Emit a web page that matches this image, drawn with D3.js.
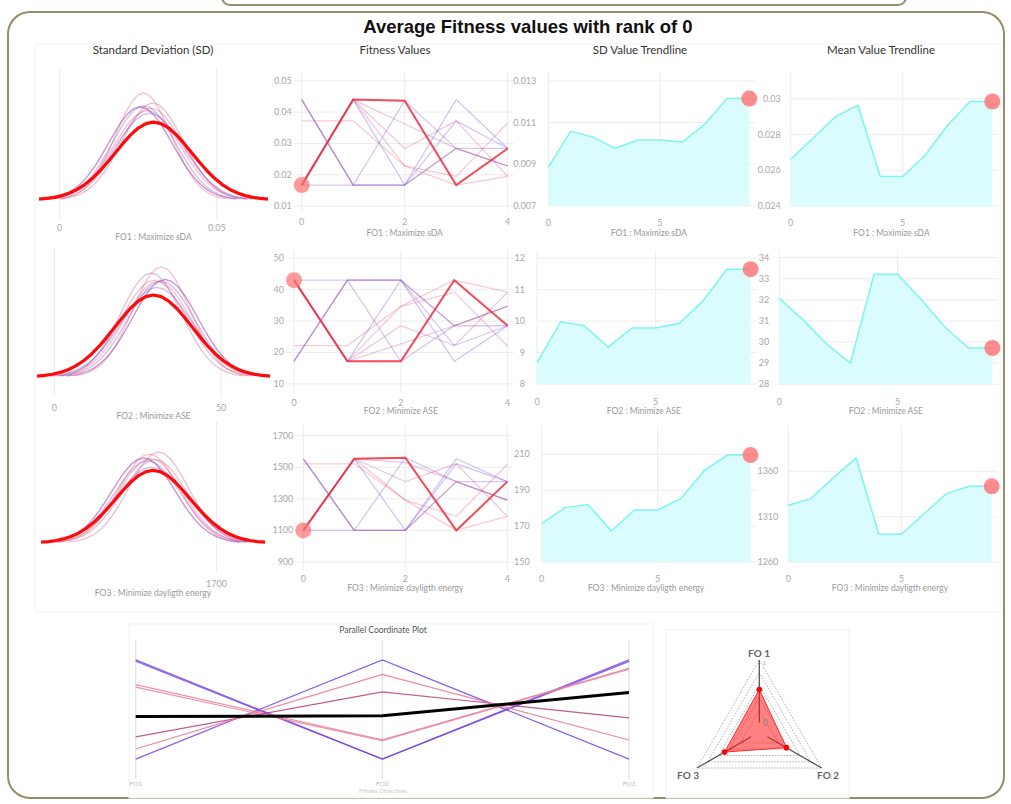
<!DOCTYPE html>
<html>
<head>
<meta charset="utf-8">
<script src="https://cdn.jsdelivr.net/npm/d3@7"></script>
<style>
  body { margin: 0; background: #fff; }
  svg { display: block; }
</style>
</head>
<body>
<svg id="chart" width="1011" height="804"></svg>
<script>
// ---------------------------------------------------------------------------
// Data: fitness of the 5 individuals in each of the 10 generations
// ---------------------------------------------------------------------------
const generations = [0, 1, 2, 3, 4, 5, 6, 7, 8, 9];
const individuals = [0, 1, 2, 3, 4];

const fo1Fitness = [
  [0.0372, 0.0372, 0.0228, 0.0167, 0.0195],
  [0.0167, 0.0440, 0.0228, 0.0195, 0.0365],
  [0.0167, 0.0440, 0.0284, 0.0372, 0.0195],
  [0.0167, 0.0440, 0.0362, 0.0284, 0.0228],
  [0.0440, 0.0167, 0.0167, 0.0284, 0.0228],
  [0.0440, 0.0167, 0.0167, 0.0284, 0.0228],
  [0.0167, 0.0167, 0.0436, 0.0284, 0.0284],
  [0.0440, 0.0167, 0.0167, 0.0372, 0.0284],
  [0.0167, 0.0440, 0.0167, 0.0440, 0.0284],
  [0.0167, 0.0440, 0.0436, 0.0167, 0.0284]
];
const fo2Fitness = [
  [22.2, 22.2, 34.7, 43.0, 39.2],
  [43.0, 17.2, 34.7, 39.2, 22.0],
  [43.0, 17.2, 28.5, 22.2, 39.2],
  [43.0, 17.2, 22.7, 28.5, 34.7],
  [17.2, 43.0, 43.0, 28.5, 34.7],
  [17.2, 43.0, 43.0, 28.5, 34.7],
  [43.0, 43.0, 17.2, 28.5, 28.5],
  [17.2, 43.0, 43.0, 22.2, 28.5],
  [43.0, 17.2, 43.0, 17.2, 28.5],
  [43.0, 17.2, 17.2, 43.0, 28.5]
];
const fo3Fitness = [
  [1522, 1522, 1292, 1100, 1189],
  [1100, 1554, 1292, 1189, 1518],
  [1100, 1554, 1409, 1522, 1189],
  [1100, 1554, 1530, 1409, 1292],
  [1554, 1100, 1100, 1409, 1292],
  [1554, 1100, 1100, 1409, 1292],
  [1100, 1100, 1561, 1409, 1409],
  [1554, 1100, 1100, 1522, 1409],
  [1100, 1554, 1100, 1554, 1409],
  [1100, 1554, 1561, 1100, 1409]
];

// Per-generation standard deviation and mean of each objective
const fo1Sd   = [0.00885, 0.01058, 0.01030, 0.00976, 0.01016, 0.01016, 0.01006, 0.01091, 0.01215, 0.01215];
const fo1Mean = [0.02662, 0.02781, 0.02900, 0.02963, 0.02565, 0.02565, 0.02684, 0.02851, 0.02985, 0.02985];
const fo2Sd   = [8.68, 9.98, 9.85, 9.17, 9.78, 9.78, 9.93, 10.65, 11.65, 11.65];
const fo2Mean = [32.07, 31.05, 29.91, 29.00, 33.21, 33.21, 32.00, 30.70, 29.72, 29.72];
const fo3Sd   = [171.4, 180.3, 182.0, 167.3, 179.0, 179.0, 185.3, 200.9, 209.6, 209.6];
const fo3Mean = [1322.6, 1330.0, 1353.0, 1374.7, 1291.1, 1290.8, 1313.1, 1335.5, 1343.5, 1343.5];

// Axis tick values
const sdAxisTicks      = [[0, 0.05], [0, 50], [1700]];
const fitnessTicks     = [[0.01, 0.02, 0.03, 0.04, 0.05], [10, 20, 30, 40, 50], [900, 1100, 1300, 1500, 1700]];
const individualTicks  = [0, 2, 4];
const sdTrendTicks     = [[0.007, 0.009, 0.011, 0.013], [8, 9, 10, 11, 12], [150, 170, 190, 210]];
const meanTrendTicks   = [[0.024, 0.026, 0.028, 0.03], [28, 29, 30, 31, 32, 33, 34], [1260, 1310, 1360]];
const generationTicks  = [0, 5];

const objectiveTitles = ["FO1 : Maximize sDA", "FO2 : Minimize ASE", "FO3 : Minimize dayligth energy"];
const columnTitles = ["Standard Deviation (SD)", "Fitness Values", "SD Value Trendline", "Mean Value Trendline"];

// Parallel coordinates: distinct individuals of the run
const pcAxes = ["FO1", "FO2", "FO3"];
const pcFO1 = [0.0440, 0.0436, 0.0167, 0.0372, 0.0365, 0.0228, 0.0195, 0.0284];
const pcFO2 = [17.2, 17.2, 43.0, 22.2, 22.0, 34.7, 39.2, 28.5];
const pcFO3 = [1554, 1561, 1100, 1522, 1518, 1292, 1189, 1409];
const pcGroup = ["edge", "edge", "edge", "upper", "upper", "middle", "lower", "selected"];

// Radar of the selected solution
const radarAxes = ["FO 1", "FO 2", "FO 3"];
const radarValues = [0.53, 0.35, 0.49];
const radarLevels = [0.2, 0.4, 0.6, 0.8, 1];

// ---------------------------------------------------------------------------
const svg = d3.select("#chart");
const FONT = "Lato, 'Open Sans', sans-serif";
const GRID = "#ececec";
const TICK = "#a8a8a8";

// Outer frames
svg.append("rect").attr("x", 222).attr("y", -20).attr("width", 684).attr("height", 25)
  .attr("rx", 8).attr("fill", "none").attr("stroke", "#978c69").attr("stroke-width", 2);
svg.append("rect").attr("x", 8).attr("y", 12).attr("width", 996).attr("height", 786)
  .attr("rx", 22).attr("fill", "#fff").attr("stroke", "#978c69").attr("stroke-width", 2);

svg.append("text").attr("x", 528).attr("y", 33).attr("text-anchor", "middle")
  .attr("font-family", "'Liberation Sans', Arial, sans-serif").attr("font-weight", "bold")
  .attr("font-size", 18.5).attr("fill", "#111").text("Average Fitness values with rank of 0");

// Cards
svg.append("rect").attr("x", 35).attr("y", 44).attr("width", 966).attr("height", 568)
  .attr("fill", "#fff").attr("stroke", "#f1f1f1");
svg.append("rect").attr("x", 129).attr("y", 624).attr("width", 524).attr("height", 174)
  .attr("fill", "#fff").attr("stroke", "#f1f1f1");
svg.append("rect").attr("x", 666).attr("y", 630).attr("width", 183).attr("height", 168)
  .attr("fill", "#fff").attr("stroke", "#f1f1f1");

const colCenters = [153, 395, 640, 881];
columnTitles.forEach((t, i) => {
  svg.append("text").attr("x", colCenters[i]).attr("y", 54).attr("text-anchor", "middle")
    .attr("font-family", FONT).attr("font-size", 11.5).attr("fill", "#333").text(t);
});

const genColor = i => d3.interpolateRgb("#ef5a6e", "#6b4fe6")(i / 8);

const objectives = [
  { fitness: fo1Fitness, sd: fo1Sd, mean: fo1Mean },
  { fitness: fo2Fitness, sd: fo2Sd, mean: fo2Mean },
  { fitness: fo3Fitness, sd: fo3Sd, mean: fo3Mean }
];

// Panel geometry per objective row
const rows = [
  { sdX: [39, 268], sdBase: 200, sdPeak: 107, sdGrid: [67, 220], sdTickY: 231, sdTitleY: 240,
    fitX: [301.7, 507.7], fitY: [213, 72], fitDom: [0.0078, 0.0528], fitTickY: 225, fitTitleY: 236,
    sdtX: [548.3, 749.3], sdtY: [205.7, 72], sdtDom: [0.007, 0.01343],
    mtX: [790.7, 992.3], mtY: [206, 72], mtDom: [0.024, 0.0315], trTickY: 226, trTitleY: 236 },
  { sdX: [37, 270], sdBase: 377, sdPeak: 110, sdGrid: [247, 397], sdTickY: 411, sdTitleY: 419,
    fitX: [294, 507.7], fitY: [393, 250], fitDom: [7.1, 52.6], fitTickY: 406, fitTitleY: 414,
    sdtX: [537, 750.6], sdtY: [384, 250], sdtDom: [8, 12.26],
    mtX: [779.3, 992.4], mtY: [384.3, 250], mtDom: [28, 34.36], trTickY: 405, trTitleY: 414 },
  { sdX: [41, 265], sdBase: 543, sdPeak: 91, sdGrid: [422, 573], sdTickY: 587, sdTitleY: 596,
    fitX: [303.3, 507.3], fitY: [570, 425], fitDom: [849, 1768], fitTickY: 582, fitTitleY: 591,
    sdtX: [541.7, 750.5], sdtY: [562, 426.7], sdtDom: [150, 225.4],
    mtX: [788.3, 991.7], mtY: [562.3, 426.7], mtDom: [1260, 1409], trTickY: 582, trTitleY: 591 }
];

const fmt = d => String(+d.toPrecision(6));
const normalPdf = (x, m, s) => Math.exp(-0.5 * ((x - m) / s) ** 2) / (s * Math.sqrt(2 * Math.PI));

function text(g, x, y, str, opts = {}) {
  return g.append("text").attr("x", x).attr("y", y)
    .attr("text-anchor", opts.anchor || "middle")
    .attr("font-family", FONT).attr("font-size", opts.size || 9)
    .attr("fill", opts.fill || TICK).text(str);
}

objectives.forEach((obj, r) => {
  const L = rows[r];
  const g = svg.append("g");

  // ---------- Standard deviation curves ----------
  const lo = d3.min(generations, i => obj.mean[i] - 3 * obj.sd[i]);
  const hi = d3.max(generations, i => obj.mean[i] + 3 * obj.sd[i]);
  const xs = d3.scaleLinear().domain([lo, hi]).range(L.sdX);
  const peakMax = d3.max(generations, i => normalPdf(obj.mean[i], obj.mean[i], obj.sd[i]));
  const ys = d3.scaleLinear().domain([0, peakMax]).range([L.sdBase, L.sdBase - L.sdPeak]);
  sdAxisTicks[r].forEach(t => {
    g.append("line").attr("x1", xs(t)).attr("x2", xs(t)).attr("y1", L.sdGrid[0]).attr("y2", L.sdGrid[1])
      .attr("stroke", GRID);
    text(g, xs(t), L.sdTickY, fmt(t));
  });
  text(g, (L.sdX[0] + L.sdX[1]) / 2, L.sdTitleY, objectiveTitles[r], { size: 8.5, fill: "#999" });
  const curve = i => {
    const m = obj.mean[i], s = obj.sd[i];
    return d3.range(31).map(k => {
      const x = m - 3 * s + k * (6 * s / 30);
      return [xs(x), ys(normalPdf(x, m, s))];
    });
  };
  const line = d3.line();
  generations.slice(0, 9).forEach(i => {
    g.append("path").attr("d", line(curve(i))).attr("fill", "none")
      .attr("stroke", genColor(i)).attr("stroke-opacity", 0.38).attr("stroke-width", 1.3);
  });
  g.append("path").attr("d", line(curve(9))).attr("fill", "none")
    .attr("stroke", "#ff0a0a").attr("stroke-width", 3.2).attr("stroke-linejoin", "round");

  // ---------- Fitness values of the individuals ----------
  const xf = d3.scaleLinear().domain([0, 4]).range(L.fitX);
  const yf = d3.scaleLinear().domain(L.fitDom).range(L.fitY);
  fitnessTicks[r].forEach(t => {
    g.append("line").attr("x1", L.fitX[0] - 8).attr("x2", L.fitX[1] + 6).attr("y1", yf(t)).attr("y2", yf(t))
      .attr("stroke", GRID);
    text(g, L.fitX[0] - 10, yf(t) + 3, fmt(t), { anchor: "end" });
  });
  individualTicks.forEach(t => {
    g.append("line").attr("x1", xf(t)).attr("x2", xf(t)).attr("y1", L.fitY[1]).attr("y2", L.fitY[0])
      .attr("stroke", GRID);
    text(g, xf(t), L.fitTickY, t);
  });
  text(g, (L.fitX[0] + L.fitX[1]) / 2, L.fitTitleY, objectiveTitles[r], { size: 8.5, fill: "#999" });
  const fline = d3.line().x((d, k) => xf(individuals[k])).y(d => yf(d));
  generations.slice(0, 9).forEach(i => {
    g.append("path").attr("d", fline(obj.fitness[i])).attr("fill", "none")
      .attr("stroke", genColor(i)).attr("stroke-opacity", 0.32).attr("stroke-width", 1.3);
  });
  g.append("path").attr("d", fline(obj.fitness[9])).attr("fill", "none")
    .attr("stroke", "#ee2b3d").attr("stroke-opacity", 0.85).attr("stroke-width", 2);
  g.append("circle").attr("cx", xf(0)).attr("cy", yf(obj.fitness[9][0])).attr("r", 8)
    .attr("fill", "#ff6f6f").attr("fill-opacity", 0.7);

  // ---------- Trendlines (SD and mean) ----------
  const trend = (values, X, Y, dom, ticks, labelGap) => {
    const xt = d3.scaleLinear().domain([0, 9]).range(X);
    const yt = d3.scaleLinear().domain(dom).range(Y);
    ticks.forEach(t => {
      g.append("line").attr("x1", X[0]).attr("x2", X[1] + 6).attr("y1", yt(t)).attr("y2", yt(t))
        .attr("stroke", GRID);
      text(g, X[0] - labelGap, yt(t) + 3, fmt(t), { anchor: "end" });
    });
    generationTicks.forEach(t => {
      g.append("line").attr("x1", xt(t)).attr("x2", xt(t)).attr("y1", Y[1]).attr("y2", Y[0])
        .attr("stroke", GRID);
      text(g, xt(t), L.trTickY, t);
    });
    text(g, (X[0] + X[1]) / 2, L.trTitleY, objectiveTitles[r], { size: 8.5, fill: "#999" });
    const area = d3.area().x((d, i) => xt(generations[i])).y0(Y[0]).y1(d => yt(d));
    const ln = d3.line().x((d, i) => xt(generations[i])).y(d => yt(d));
    g.append("path").attr("d", area(values)).attr("fill", "#dafcfc");
    g.append("path").attr("d", ln(values)).attr("fill", "none").attr("stroke", "#7ef3f3").attr("stroke-width", 1.5);
    g.append("circle").attr("cx", xt(9)).attr("cy", yt(values[9])).attr("r", 8)
      .attr("fill", "#ff6f6f").attr("fill-opacity", 0.8);
  };
  trend(obj.sd, L.sdtX, L.sdtY, L.sdtDom, sdTrendTicks[r], 12);
  trend(obj.mean, L.mtX, L.mtY, L.mtDom, meanTrendTicks[r], 10);
});

// ---------------------------------------------------------------------------
// Parallel coordinate plot
// ---------------------------------------------------------------------------
{
  const g = svg.append("g");
  const pcData = [pcFO1, pcFO2, pcFO3];
  const xp = d3.scalePoint().domain(pcAxes).range([135.7, 629]);
  const yScales = pcData.map(vals => {
    const [mn, mx] = d3.extent(vals);
    const pad = (mx - mn) * 0.2;
    return d3.scaleLinear().domain([mn - pad, mx + pad]).range([779, 640]);
  });
  pcAxes.forEach(a => {
    g.append("line").attr("x1", xp(a)).attr("x2", xp(a)).attr("y1", 640).attr("y2", 779)
      .attr("stroke", "#e6e6e6").attr("stroke-width", 1.5);
    text(g, xp(a), 786, a, { size: 6.5, fill: "#bbb" });
  });
  text(g, 383, 633, "Parallel Coordinate Plot", { size: 8.5, fill: "#555" });
  text(g, 383, 793, "Fitness Objectives", { size: 6, fill: "#ccc" });
  const groupColor = { edge: "#7442e6", upper: "#e9809a", middle: "#b5407d", lower: "#e8748f", selected: "#000" };
  const pline = d3.line();
  const order = d3.range(pcFO1.length).sort((a, b) => (pcGroup[a] === "selected") - (pcGroup[b] === "selected"));
  order.forEach(k => {
    const pts = pcAxes.map((a, j) => [xp(a), yScales[j](pcData[j][k])]);
    const sel = pcGroup[k] === "selected";
    g.append("path").attr("d", pline(pts)).attr("fill", "none")
      .attr("stroke", groupColor[pcGroup[k]])
      .attr("stroke-width", sel ? 3 : 1.2).attr("stroke-opacity", sel ? 1 : 0.85);
  });
}

// ---------------------------------------------------------------------------
// Radar of the selected solution
// ---------------------------------------------------------------------------
{
  const g = svg.append("g");
  const cx = 759.3, cy = 732;
  const rr = d3.scaleLinear().domain([-0.15, 1]).range([0, 72]);
  const ang = d3.scalePoint().domain(radarAxes).range([-90, 150]);
  const pt = (a, v) => {
    const t = ang(a) * Math.PI / 180;
    return [cx + rr(v) * Math.cos(t), cy + rr(v) * Math.sin(t)];
  };
  radarLevels.forEach(l => {
    g.append("path").attr("d", d3.line()(radarAxes.map(a => pt(a, l))) + "Z")
      .attr("fill", "none").attr("stroke", "#999").attr("stroke-width", 0.8)
      .attr("stroke-dasharray", "1.5,1.5");
  });
  radarAxes.forEach(a => {
    const p0 = pt(a, 0), p1 = pt(a, 1);
    g.append("line").attr("x1", p0[0]).attr("y1", p0[1]).attr("x2", p1[0]).attr("y2", p1[1])
      .attr("stroke", "#555").attr("stroke-width", 1.3);
  });
  const poly = radarAxes.map((a, i) => pt(a, radarValues[i]));
  g.append("path").attr("d", d3.line()(poly) + "Z")
    .attr("fill", "#ff1a1a").attr("fill-opacity", 0.55).attr("stroke", "#ff2a2a").attr("stroke-width", 1);
  poly.forEach(p => g.append("circle").attr("cx", p[0]).attr("cy", p[1]).attr("r", 2.8).attr("fill", "#ff0000"));
  text(g, pt("FO 1", 0)[0] + 6, pt("FO 1", 0)[1] + 3, "0", { size: 9, fill: "#888", anchor: "middle" });
  text(g, pt("FO 1", 1)[0] + 5, pt("FO 1", 1)[1] + 5, "1", { size: 6, fill: "#aaa", anchor: "middle" });
  const labelPos = { "FO 1": [759, 657], "FO 2": [828, 779], "FO 3": [688, 779] };
  radarAxes.forEach(a => {
    g.append("text").attr("x", labelPos[a][0]).attr("y", labelPos[a][1]).attr("text-anchor", "middle")
      .attr("font-family", FONT).attr("font-weight", "bold").attr("font-size", 10).attr("fill", "#666").text(a);
  });
}
</script>
</body>
</html>
